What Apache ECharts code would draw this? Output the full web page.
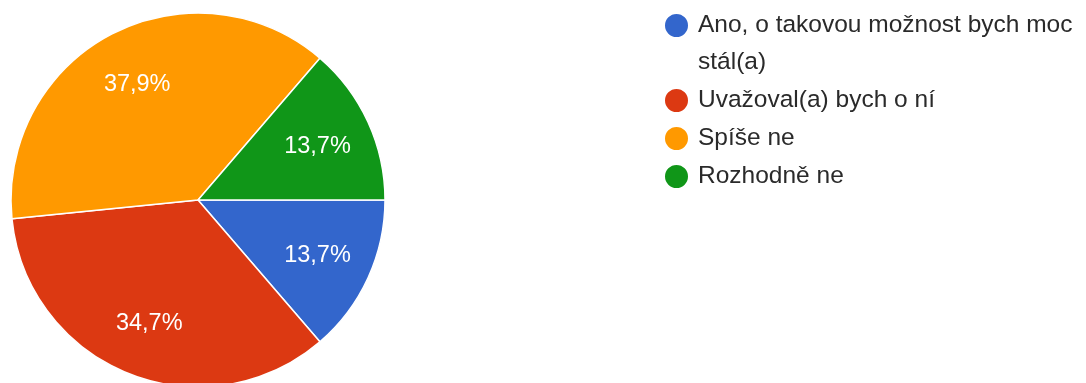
<html>
<head>
    <meta http-equiv="Content-Type" content="text/html; charset=utf-8" />
    <title>Pie</title>
    <style type="text/css">
        * { margin: 0; padding: 0 }
        html, body { width: 100%; height: 100%; background: #fff; }
        #chart { width: 1086px; height: 383px; }
    </style>
</head>
<body>
    <div id="chart"></div>
    <script src="https://cdn.jsdelivr.net/npm/echarts@6/dist/echarts.min.js"></script>
    <script>
        const categories = ['Ano, o takovou možnost bych moc stál(a)', 'Uvažoval(a) bych o ní', 'Spíše ne', 'Rozhodně ne'];
        const shares = [13.7, 34.7, 37.9, 13.7];
        const colors = ['#3366cc', '#dc3912', '#ff9900', '#109618'];

        const lineH = 37;
        const data = categories.map((name, i) => ({ name: name, value: shares[i] }));

        // first legend entry wraps after "moc"; an empty line above keeps the dot on the first line
        const legendText = name => name === categories[0]
            ? '\n' + name.replace(' stál', '\nstál')
            : name;

        const chart = echarts.init(document.getElementById('chart'));
        chart.setOption({
            animation: false,
            color: colors,
            legend: {
                orient: 'vertical',
                left: 663,
                top: -30,
                padding: 0,
                icon: 'circle',
                itemWidth: 25,
                itemHeight: 25,
                itemGap: 1,
                selectedMode: false,
                formatter: legendText,
                textStyle: {
                    fontFamily: 'Arial, "Liberation Sans", sans-serif',
                    fontSize: 24.5,
                    color: '#2a2a2a',
                    lineHeight: lineH,
                    padding: [0, 0, 0, 4]
                },
                data: categories
            },
            series: [
                {
                    type: 'pie',
                    center: [198, 200],
                    radius: [0, 187],
                    startAngle: 0,
                    clockwise: true,
                    silent: true,
                    label: { show: false },
                    labelLine: { show: false },
                    itemStyle: { borderColor: '#fff', borderWidth: 1.5 },
                    data: data
                },
                {
                    // invisible ring, only used to place the percentage labels further out
                    type: 'pie',
                    center: [198, 201],
                    radius: [70, 187],
                    startAngle: 0,
                    clockwise: true,
                    silent: true,
                    itemStyle: { color: 'rgba(0,0,0,0)' },
                    label: {
                        show: true,
                        position: 'inside',
                        formatter: p => p.value.toFixed(1).replace('.', ',') + '%',
                        color: '#fff',
                        fontFamily: 'Arial, "Liberation Sans", sans-serif',
                        fontSize: 23.5
                    },
                    labelLine: { show: false },
                    data: data
                }
            ]
        });
    </script>
</body>
</html>
